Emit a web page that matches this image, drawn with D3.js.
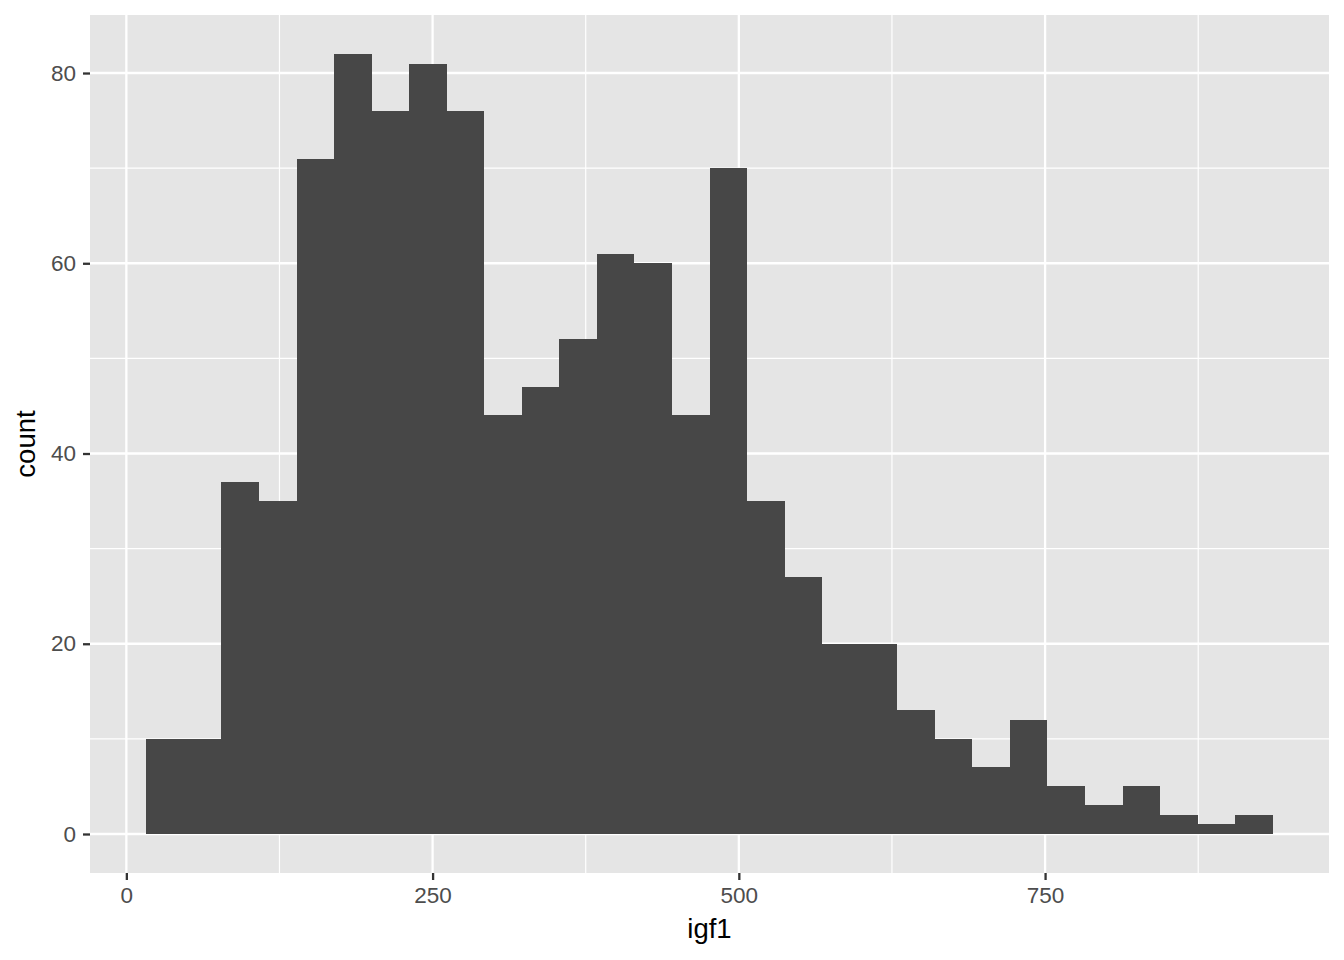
<!DOCTYPE html>
<html>
<head>
<meta charset="utf-8">
<script src="https://cdn.jsdelivr.net/npm/d3@7"></script>
<style>
body { margin: 0; background: #fff; }
text { font-family: "Liberation Sans", Arial, sans-serif; }
</style>
</head>
<body>
<div id="canvas"></div>
<script>
// histogram of igf1, 30 bins
var binStart = 16.3;
var binWidth = 30.65;
var counts = [10, 10, 37, 35, 71, 82, 76, 81, 76, 44,
              47, 52, 61, 60, 44, 70, 35, 27, 20, 20,
              13, 10, 7, 12, 5, 3, 5, 2, 1, 2];
var xTicks = [0, 250, 500, 750];
var xMinor = [125, 375, 625, 875];
var yTicks = [0, 20, 40, 60, 80];
var yMinor = [10, 30, 50, 70];
var xTitle = "igf1";
var yTitle = "count";

var width = 1344, height = 960;
var panel = {left: 90, top: 15, right: 1329, bottom: 873};

var bins = counts.map(function(c, i){
	return {x0: binStart + i * binWidth, x1: binStart + (i + 1) * binWidth, n: c};
});

var xlo = bins[0].x0, xhi = bins[bins.length - 1].x1;
var xpad = (xhi - xlo) * 0.05;
var ymax = d3.max(counts);
var ypad = ymax * 0.05;

var x = d3.scaleLinear().domain([xlo - xpad, xhi + xpad]).range([panel.left, panel.right]);
var y = d3.scaleLinear().domain([-ypad, ymax + ypad]).range([panel.bottom, panel.top]);

var svg = d3.select("#canvas").append("svg")
	.attr("width", width).attr("height", height);

svg.append("rect")
	.attr("x", panel.left).attr("y", panel.top)
	.attr("width", panel.right - panel.left)
	.attr("height", panel.bottom - panel.top)
	.attr("fill", "#e5e5e5");

var grid = svg.append("g");
grid.selectAll(".xminor").data(xMinor).enter().append("line")
	.attr("x1", function(d){ return x(d); }).attr("x2", function(d){ return x(d); })
	.attr("y1", panel.top).attr("y2", panel.bottom)
	.attr("stroke", "#fff").attr("stroke-width", 1.2);
grid.selectAll(".yminor").data(yMinor).enter().append("line")
	.attr("y1", function(d){ return y(d); }).attr("y2", function(d){ return y(d); })
	.attr("x1", panel.left).attr("x2", panel.right)
	.attr("stroke", "#fff").attr("stroke-width", 1.2);
grid.selectAll(".xmajor").data(xTicks).enter().append("line")
	.attr("x1", function(d){ return x(d); }).attr("x2", function(d){ return x(d); })
	.attr("y1", panel.top).attr("y2", panel.bottom)
	.attr("stroke", "#fff").attr("stroke-width", 2.3);
grid.selectAll(".ymajor").data(yTicks).enter().append("line")
	.attr("y1", function(d){ return y(d); }).attr("y2", function(d){ return y(d); })
	.attr("x1", panel.left).attr("x2", panel.right)
	.attr("stroke", "#fff").attr("stroke-width", 2.3);

svg.append("g").selectAll("rect").data(bins).enter().append("rect")
	.attr("x", function(d){ return x(d.x0); })
	.attr("width", function(d){ return x(d.x1) - x(d.x0); })
	.attr("y", function(d){ return y(d.n); })
	.attr("height", function(d){ return y(0) - y(d.n); })
	.attr("fill", "#474747")
	.attr("shape-rendering", "crispEdges");

var xAxis = svg.append("g")
	.attr("transform", "translate(0," + panel.bottom + ")")
	.call(d3.axisBottom(x).tickValues(xTicks).tickSize(7).tickPadding(7));
var yAxis = svg.append("g")
	.attr("transform", "translate(" + panel.left + ",0)")
	.call(d3.axisLeft(y).tickValues(yTicks).tickSize(7).tickPadding(7));

[xAxis, yAxis].forEach(function(a){
	a.select(".domain").remove();
	a.selectAll(".tick line").attr("stroke", "#333").attr("stroke-width", 2.3);
	a.selectAll(".tick text").attr("fill", "#4d4d4d").style("font-size", "22.5px");
});

svg.append("text")
	.attr("x", (panel.left + panel.right) / 2).attr("y", 938)
	.attr("text-anchor", "middle")
	.style("font-size", "27.5px").attr("fill", "#000")
	.text(xTitle);
svg.append("text")
	.attr("transform", "translate(35," + ((panel.top + panel.bottom) / 2) + ") rotate(-90)")
	.attr("text-anchor", "middle")
	.style("font-size", "27.5px").attr("fill", "#000")
	.text(yTitle);
</script>
</body>
</html>
